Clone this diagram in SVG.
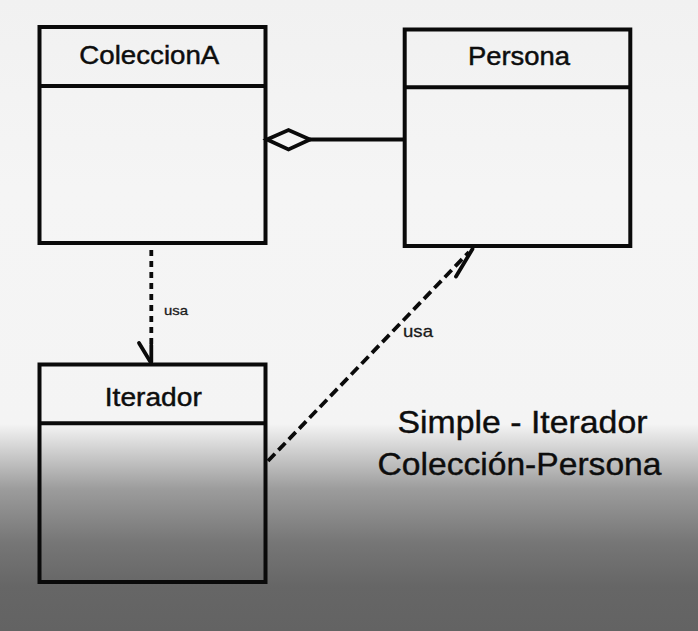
<svg xmlns="http://www.w3.org/2000/svg" width="698" height="631" viewBox="0 0 698 631">
<defs>
<linearGradient id="bg" x1="0" y1="0" x2="0" y2="631" gradientUnits="userSpaceOnUse">
<stop offset="0" stop-color="#f1f1f1"/>
<stop offset="0.3" stop-color="#f5f5f5"/>
<stop offset="0.672" stop-color="#f4f4f4"/>
<stop offset="0.715" stop-color="#cfcfcf"/>
<stop offset="0.775" stop-color="#9c9c9c"/>
<stop offset="0.86" stop-color="#767676"/>
<stop offset="0.93" stop-color="#666666"/>
<stop offset="1" stop-color="#636363"/>
</linearGradient>
<style>
.box{fill:none;stroke:#0a0a0a;stroke-width:4}
.title{font-family:"Liberation Sans",Arial,sans-serif;font-size:25px;fill:#0d0d0d;stroke:#0d0d0d;stroke-width:0.45;text-anchor:middle}
.lbl{font-family:"Liberation Sans",Arial,sans-serif;fill:#1a1a1a;stroke:#1a1a1a;stroke-width:0.3}
.cap{font-family:"Liberation Sans",Arial,sans-serif;font-size:32px;fill:#0d0d0d;stroke:#0d0d0d;stroke-width:0.4;text-anchor:middle}
.dash{fill:none;stroke:#0a0a0a;stroke-width:3.8}
.solid{fill:none;stroke:#0a0a0a;stroke-width:3.8;stroke-linecap:round}
</style>
</defs>
<rect x="0" y="0" width="698" height="631" fill="url(#bg)"/>

<g id="connectors">
<polygon points="267,139.5 288.5,130 310,139.5 288.5,149.5" fill="none" stroke="#0a0a0a" stroke-width="3.8" stroke-linejoin="miter"/>
<line x1="310" y1="139.5" x2="404" y2="139.5" class="solid" stroke-linecap="butt"/>
<line x1="151.3" y1="250" x2="151.3" y2="345" class="dash" stroke-dasharray="6 5"/>
<line x1="151.3" y1="345" x2="151.3" y2="362" class="solid"/>
<line x1="139" y1="343" x2="150.5" y2="362" class="solid"/>
<line x1="268" y1="461" x2="469" y2="252" class="dash" stroke-dasharray="10 5"/>
<line x1="456" y1="276.5" x2="472.5" y2="249" class="solid"/>
<text x="164" y="315" class="lbl" font-size="13" textLength="24" lengthAdjust="spacingAndGlyphs">usa</text>
<text x="403" y="337" class="lbl" font-size="17" textLength="30" lengthAdjust="spacingAndGlyphs">usa</text>
</g>

<g id="ColeccionA">
<rect x="39.5" y="27" width="226" height="216" class="box"/>
<line x1="39.5" y1="86" x2="265.5" y2="86" class="box"/>
<text x="149.3" y="64" class="title" textLength="140" lengthAdjust="spacingAndGlyphs">ColeccionA</text>
</g>

<g id="Persona">
<rect x="404.7" y="29.5" width="225.6" height="216.5" class="box"/>
<line x1="404.7" y1="87.3" x2="630.3" y2="87.3" class="box"/>
<text x="519" y="65" class="title" textLength="102" lengthAdjust="spacingAndGlyphs">Persona</text>
</g>

<g id="Iterador">
<rect x="39.5" y="364.5" width="226" height="217.5" class="box"/>
<line x1="39.5" y1="423.3" x2="265.5" y2="423.3" class="box"/>
<text x="153.3" y="405.5" class="title" textLength="97" lengthAdjust="spacingAndGlyphs">Iterador</text>
</g>

<g id="caption">
<text x="522.5" y="433.3" class="cap" textLength="250" lengthAdjust="spacingAndGlyphs">Simple - Iterador</text>
<text x="519.5" y="475" class="cap" textLength="284" lengthAdjust="spacingAndGlyphs">Colección-Persona</text>
</g>
</svg>
